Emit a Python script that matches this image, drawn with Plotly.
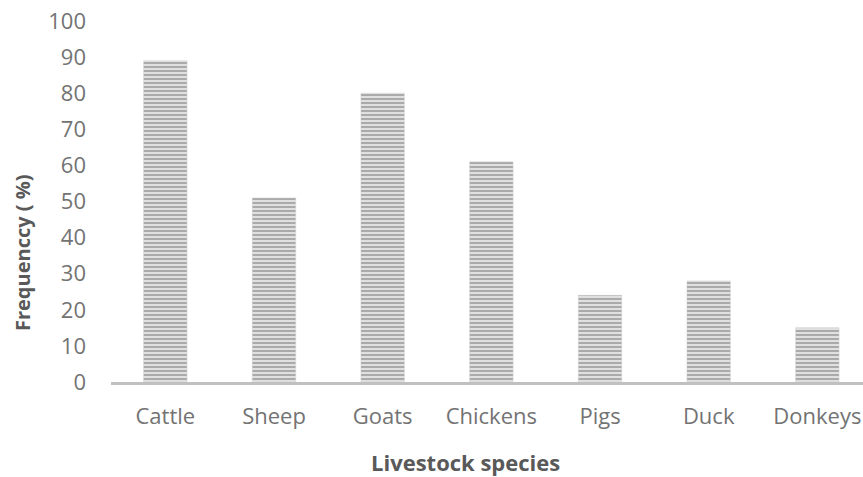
import plotly.graph_objects as go

categories = ["Cattle", "Sheep", "Goats", "Chickens", "Pigs", "Duck", "Donkeys"]
frequency = [89, 51, 80, 61, 24, 28, 15]
y_ticks = [0, 10, 20, 30, 40, 50, 60, 70, 80, 90, 100]

L, R, T, B = 111, 0, 21, 95
W, H = 863, 477
pw, ph = W - L - R, H - T - B

def px_x(x):
    return (x - L) / pw

def px_y(y):
    return (H - B - y) / ph

font_fam = "Open Sans"
title_grey = "#595959"
tick_grey = "#737373"

fig = go.Figure(go.Bar(
    x=categories,
    y=frequency,
    width=0.4,
    marker=dict(
        color="#dadada",
        line=dict(color="#d0d0d0", width=0.5),
        pattern=dict(shape="-", fgcolor="#a4a4a4", bgcolor="#e0e0e0",
                     size=4, solidity=0.45, fillmode="replace"),
    ),
))

fig.update_layout(
    width=W, height=H,
    margin=dict(l=L, r=R, t=T, b=B, autoexpand=False),
    plot_bgcolor="white", paper_bgcolor="white",
    showlegend=False,
    font=dict(family=font_fam, color=title_grey, size=19),
)
fig.update_xaxes(
    range=[-0.5, 6.42], showline=True, linecolor="#c0c0c0", linewidth=3,
    ticks="", showgrid=False, zeroline=False, automargin=False,
    tickfont=dict(size=22, color=tick_grey), ticklabelstandoff=13,
)
fig.update_yaxes(
    range=[0, 100], tickvals=y_ticks, showline=False, showgrid=False,
    zeroline=False, ticks="", automargin=False,
    tickfont=dict(size=22, color=tick_grey), ticklabelstandoff=24,
)
fig.add_annotation(
    text="<b>Frequenccy ( %)</b>", textangle=-90, showarrow=False,
    xref="paper", yref="paper", x=px_x(22), y=px_y(253),
    xanchor="center", yanchor="middle",
    font=dict(size=20, color=title_grey, family=font_fam),
)
fig.add_annotation(
    text="<b>Livestock species</b>", showarrow=False,
    xref="paper", yref="paper", x=px_x(465), y=px_y(462),
    xanchor="center", yanchor="middle",
    font=dict(size=22, color=title_grey, family=font_fam),
)

fig.write_html(
    "out.html",
    config={"displayModeBar": False},
    post_script="document.body.style.margin='0';document.body.style.overflow='hidden';",
)
